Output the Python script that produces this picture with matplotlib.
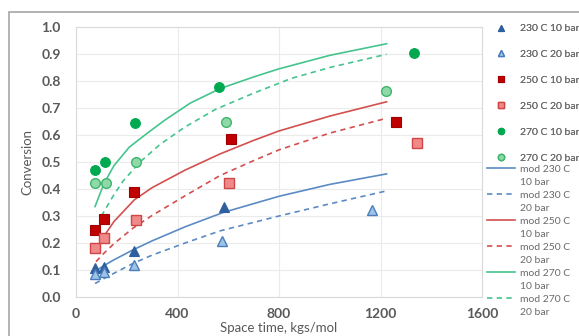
import matplotlib
matplotlib.use("Agg")
import matplotlib.pyplot as plt
from matplotlib.patches import Rectangle
from matplotlib.legend_handler import HandlerLine2D

plt.rcParams['font.family'] = ['Lato', 'DejaVu Sans']

# Measured conversion vs. space time (kgs/mol)
t230_10 = [75, 110, 229, 582]
x230_10 = [0.107, 0.112, 0.171, 0.332]
t230_20 = [75, 110, 229, 574, 1165]
x230_20 = [0.085, 0.094, 0.118, 0.209, 0.322]
t250_10 = [75, 110, 229, 611, 1261]
x250_10 = [0.248, 0.289, 0.388, 0.584, 0.648]
t250_20 = [75, 110, 235, 604, 1344]
x250_20 = [0.180, 0.217, 0.285, 0.421, 0.569]
t270_10 = [75, 114, 232, 562, 1331]
x270_10 = [0.470, 0.499, 0.643, 0.776, 0.902]
t270_20 = [75, 117, 238, 591, 1223]
x270_20 = [0.423, 0.423, 0.499, 0.648, 0.764]

# Model curves
m230_10_t = [75, 110, 150, 226, 300, 430, 580, 800, 1000, 1224]
m230_10_x = [0.095, 0.116, 0.138, 0.175, 0.208, 0.260, 0.313, 0.373, 0.417, 0.456]
m230_20_t = [75, 110, 150, 226, 300, 430, 568, 800, 1000, 1224]
m230_20_x = [0.050, 0.068, 0.088, 0.125, 0.155, 0.200, 0.245, 0.300, 0.345, 0.393]
m250_10_t = [75, 110, 150, 230, 300, 430, 568, 700, 800, 1000, 1224]
m250_10_x = [0.170, 0.225, 0.280, 0.360, 0.405, 0.470, 0.530, 0.580, 0.615, 0.670, 0.723]
m250_20_t = [79, 110, 150, 226, 300, 430, 568, 700, 800, 1000, 1224]
m250_20_x = [0.131, 0.162, 0.198, 0.256, 0.302, 0.375, 0.450, 0.505, 0.545, 0.607, 0.662]
m270_10_t = [75, 110, 150, 210, 280, 350, 450, 568, 700, 800, 1000, 1224]
m270_10_x = [0.335, 0.420, 0.487, 0.555, 0.606, 0.655, 0.718, 0.772, 0.815, 0.845, 0.895, 0.938]
m270_20_t = [100, 147, 186, 252, 331, 430, 550, 700, 850, 1000, 1224]
m270_20_x = [0.300, 0.375, 0.430, 0.500, 0.565, 0.630, 0.695, 0.755, 0.810, 0.850, 0.899]

xticks = [0, 400, 800, 1200, 1600]
yticks = [0.0, 0.1, 0.2, 0.3, 0.4, 0.5, 0.6, 0.7, 0.8, 0.9, 1.0]

blue_d, blue_l, blue_e = '#2E5F9E', '#9DC3E6', '#4A7EBB'
red_d, red_l, red_e = '#C00000', '#F08A8A', '#D04545'
grn_d, grn_l, grn_e = '#00A84F', '#8FD9A8', '#3DB56B'
line_blue, line_red, line_grn = '#5B8BC4', '#D2504F', '#45C48E'
txt = '#595959'


class FirstLineHandler(HandlerLine2D):
    """Line key drawn level with the first line of a two-line label."""

    def create_artists(self, legend, orig_handle, xdescent, ydescent,
                       width, height, fontsize, trans):
        arts = super().create_artists(legend, orig_handle, xdescent, ydescent,
                                      width, height, fontsize, trans)
        for a in arts:
            a.set_ydata([y + 0.8 * fontsize for y in a.get_ydata()])
        return arts


fig = plt.figure(figsize=(5.79, 3.36), dpi=100)
fig.add_artist(Rectangle((9 / 579, -0.05), 1.0, (336 - 12) / 336 + 0.05,
                         transform=fig.transFigure, fill=False,
                         edgecolor='#A6A6A6', linewidth=1.2))

ax = fig.add_axes([76 / 579, 39 / 336, 406 / 579, 270 / 336])

lw = 1.2
dash = (0, (3.2, 2.6))
l1, = ax.plot(m230_10_t, m230_10_x, color=line_blue, lw=lw)
l2, = ax.plot(m230_20_t, m230_20_x, color=line_blue, lw=lw, linestyle=dash)
l3, = ax.plot(m250_10_t, m250_10_x, color=line_red, lw=lw)
l4, = ax.plot(m250_20_t, m250_20_x, color=line_red, lw=lw, linestyle=dash)
l5, = ax.plot(m270_10_t, m270_10_x, color=line_grn, lw=lw)
l6, = ax.plot(m270_20_t, m270_20_x, color=line_grn, lw=lw, linestyle=dash)

ms = 7
p1, = ax.plot(t230_10, x230_10, '^', ms=ms, color=blue_d, mec=blue_d, mew=0.8)
p2, = ax.plot(t230_20, x230_20, '^', ms=ms, color=blue_l, mec=blue_e, mew=1.0)
p3, = ax.plot(t250_10, x250_10, 's', ms=ms + 0.5, color=red_d, mec='#A00000', mew=0.8)
p4, = ax.plot(t250_20, x250_20, 's', ms=ms + 0.5, color=red_l, mec=red_e, mew=1.0)
p5, = ax.plot(t270_10, x270_10, 'o', ms=ms, color=grn_d, mec=grn_d, mew=0.8)
p6, = ax.plot(t270_20, x270_20, 'o', ms=ms, color=grn_l, mec=grn_e, mew=1.0)

ax.set_xlim(0, 1600)
ax.set_ylim(0, 1.0)
ax.set_xticks(xticks)
ax.set_yticks(yticks)
ax.set_yticklabels([f'{v:.1f}' for v in yticks])
ax.grid(True, color='#EBEBEB', linewidth=0.8)
ax.set_axisbelow(True)
for s in ax.spines.values():
    s.set_color('#D9D9D9')
    s.set_linewidth(0.8)
ax.tick_params(length=0, labelsize=10, colors=txt)
ax.tick_params(axis='y', pad=11)
ax.tick_params(axis='x', pad=8)
for lab in ax.get_xticklabels() + ax.get_yticklabels():
    lab.set_fontweight('bold')

ax.set_xlabel('Space time, kgs/mol', fontsize=9.5, color=txt, labelpad=1.5)
ax.set_ylabel('Conversion', fontsize=9.5, color=txt, labelpad=6)

leg_kw = dict(frameon=False, fontsize=7.5, handlelength=2.7, handletextpad=0.5,
              borderpad=0, borderaxespad=0, labelcolor='#6A6A6A')
leg1 = fig.legend([p1, p2, p3, p4, p5, p6],
                  ['230 C 10 bar', '230 C 20 bar', '250 C 10 bar',
                   '250 C 20 bar', '270 C 10 bar', '270 C 20 bar'],
                  loc='upper left', bbox_to_anchor=(487 / 579, 1 - 24 / 336),
                  labelspacing=1.59, markerscale=0.65, **leg_kw)
fig.add_artist(leg1)
line_handles = [l1, l2, l3, l4, l5, l6]
leg2 = fig.legend(line_handles,
                  ['mod 230 C\n10 bar', 'mod 230 C\n20 bar', 'mod 250 C\n10 bar',
                   'mod 250 C\n20 bar', 'mod 270 C\n10 bar', 'mod 270 C\n20 bar'],
                  loc='upper left', bbox_to_anchor=(487 / 579, 1 - 165 / 336),
                  labelspacing=0.35,
                  handler_map={h: FirstLineHandler() for h in line_handles},
                  **leg_kw)
for t in leg2.get_texts():
    t.set_linespacing(1.62)

fig.savefig('out.png', dpi=100)
